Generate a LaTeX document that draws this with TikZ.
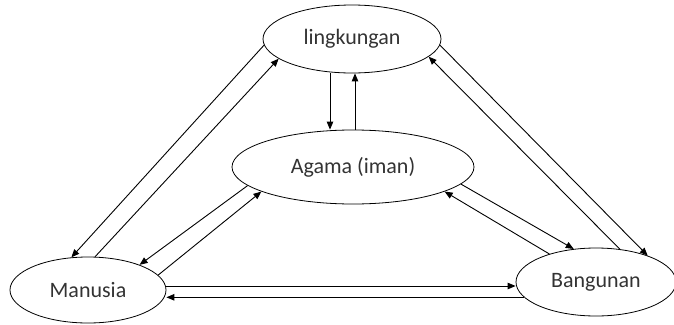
\documentclass[tikz,border=0pt]{standalone}
\usepackage{fontspec}
\setmainfont{Carlito}
\usetikzlibrary{shapes.geometric,arrows.meta}
\begin{document}
\begin{tikzpicture}[x=1pt, y=-1pt, line width=0.9pt, line join=round, >={Triangle[length=8pt,width=6.5pt]},
	font=\fontsize{22}{26}\selectfont,
	bulat/.style={ellipse, draw, line width=0.8pt, inner sep=0pt, text=black!80}]
	\useasboundingbox (0,0) rectangle (674,324);
	% ellipses
	\node[bulat, minimum width=178pt, minimum height=68pt] (ling) at (352,39) {lingkungan};
	\node[bulat, minimum width=242pt, minimum height=74pt] (agama) at (353,167) {Agama (iman)};
	\node[bulat, minimum width=156pt, minimum height=66pt] (man) at (88,290) {Manusia};
	\node[bulat, minimum width=160pt, minimum height=68pt] (bang) at (596,282) {Bangunan};
	% lingkungan <-> Agama
	\draw[->] ([xshift=-22pt]ling.south) -- ([xshift=-22pt]ling.south |- agama.north);
	\draw[->] ([xshift=3pt]ling.south |- agama.north) -- ([xshift=3pt]ling.south);
	% lingkungan <-> Manusia, Bangunan
	\draw[->] (ling.184) -- (man.117);
	\draw[->] (man.78) -- (ling.195);
	\draw[->] (ling.356) -- (bang.27);
	\draw[->] (bang.54) -- (ling.347);
	% Agama <-> Manusia, Bangunan
	\draw[->] (agama.190) -- (man.26);
	\draw[->] (man.12) -- (agama.195);
	\draw[->] (agama.351) -- (bang.124);
	\draw[->] (bang.149) -- (agama.345);
	% Manusia <-> Bangunan
	\draw[->] ([yshift=4pt]man.east) -- ([yshift=4pt]man.east -| bang.west);
	\draw[->] (bang.192) -- (bang.192 -| man.east);
\end{tikzpicture}
\end{document}
